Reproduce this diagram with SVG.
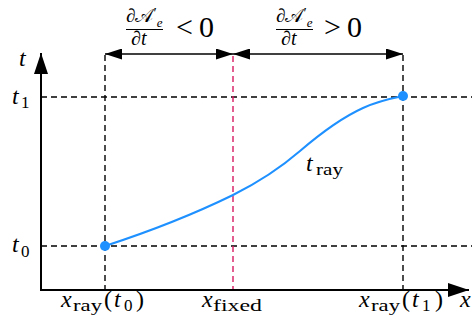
<svg xmlns="http://www.w3.org/2000/svg" width="472" height="327" viewBox="0 0 472 327">
<defs>
<style>
.dash{stroke:#000;stroke-width:1.4;stroke-dasharray:6,4;fill:none}
.red{stroke:#d81b60;stroke-width:1.4;stroke-dasharray:6,4;fill:none}
.axis{stroke:#000;stroke-width:2;fill:none}
.dim{stroke:#000;stroke-width:1.6;fill:none}
text{fill:#000;font-family:"Liberation Serif","DejaVu Serif",serif}
.it{font-style:italic}
.up{font-style:normal}
</style>
<marker id="ax" viewBox="0 0 21 14" refX="21" refY="7" markerWidth="21" markerHeight="14" markerUnits="userSpaceOnUse" orient="auto-start-reverse"><path d="M0,0 L21,7 L0,14 z" fill="#000"/></marker>
<marker id="ar" viewBox="0 0 17 11" refX="17" refY="5.5" markerWidth="17" markerHeight="11" markerUnits="userSpaceOnUse" orient="auto-start-reverse"><path d="M0,0 L17,5.5 L0,11 z" fill="#000"/></marker>
</defs>
<g id="guides">
<line class="dash" x1="105" y1="55" x2="105" y2="290"/>
<line class="dash" x1="403" y1="55" x2="403" y2="290"/>
<line class="dash" x1="41" y1="97" x2="472" y2="97"/>
<line class="dash" x1="41" y1="246" x2="472" y2="246"/>
<line class="red" x1="233" y1="56" x2="233" y2="290"/>
</g>
<g id="connectors">
<line class="axis" x1="41" y1="290" x2="41" y2="53" marker-end="url(#ax)"/>
<line class="axis" x1="40" y1="290" x2="469" y2="290" marker-end="url(#ax)"/>
<line class="dim" x1="105" y1="54" x2="233" y2="54" marker-start="url(#ar)" marker-end="url(#ar)"/>
<line class="dim" x1="233" y1="54" x2="403" y2="54" marker-start="url(#ar)" marker-end="url(#ar)"/>
</g>
<g id="curve">
<path d="M105,246 C148,232 190,216 233,195 C255,184 278,170 300,151 C321,133 342,117.5 363,108 C376,102 390,98.6 403,96" fill="none" stroke="#1e90ff" stroke-width="2"/>
<circle cx="105" cy="246" r="5" fill="#1e90ff"/>
<circle cx="403" cy="96" r="5" fill="#1e90ff"/>
</g>
<g id="axis-labels" font-size="24">
<text class="it" x="19" y="66">t</text>
<text class="it" x="12" y="104">t<tspan class="up" font-size="17" x="21" y="108">1</tspan></text>
<text class="it" x="12" y="252">t<tspan class="up" font-size="17" x="21" y="257">0</tspan></text>
<text class="it" x="460" y="307">x</text>
</g>
<g id="label-tray" font-size="24">
<text class="it" x="306" y="171">t<tspan class="up" font-size="17" x="316" y="175" textLength="27" lengthAdjust="spacingAndGlyphs">ray</tspan></text>
</g>
<g id="label-xray-t0" font-size="24">
<text class="it" x="61" y="307">x<tspan class="up" font-size="17" x="73" y="311" textLength="29" lengthAdjust="spacingAndGlyphs">ray</tspan><tspan class="up" x="104" y="307">(</tspan><tspan x="114" y="307">t</tspan><tspan class="up" font-size="17" x="124" y="311">0</tspan><tspan class="up" x="136" y="307">)</tspan></text>
</g>
<g id="label-xfixed" font-size="24">
<text class="it" x="202" y="307">x<tspan class="up" font-size="17" x="213" y="311" textLength="49" lengthAdjust="spacingAndGlyphs">fixed</tspan></text>
</g>
<g id="label-xray-t1" font-size="24">
<text class="it" x="359" y="307">x<tspan class="up" font-size="17" x="371" y="311" textLength="29" lengthAdjust="spacingAndGlyphs">ray</tspan><tspan class="up" x="402" y="307">(</tspan><tspan x="412" y="307">t</tspan><tspan class="up" font-size="17" x="422" y="311">1</tspan><tspan class="up" x="435" y="307">)</tspan></text>
</g>
<g id="label-neg">
<text font-size="19" x="126" y="22">∂𝒜<tspan font-size="15" y="18">′</tspan><tspan class="it" font-size="13" y="27">e</tspan></text>
<line x1="126" y1="29.5" x2="163" y2="29.5" stroke="#000" stroke-width="1"/>
<text font-size="20" x="131" y="45">∂<tspan class="it" x="141">t</tspan></text>
<text font-size="30" x="176" y="37">&lt;<tspan x="199">0</tspan></text>
</g>
<g id="label-pos">
<text font-size="19" x="276" y="22">∂𝒜<tspan font-size="15" y="18">′</tspan><tspan class="it" font-size="13" y="27">e</tspan></text>
<line x1="276" y1="29.5" x2="313" y2="29.5" stroke="#000" stroke-width="1"/>
<text font-size="20" x="281" y="45">∂<tspan class="it" x="291">t</tspan></text>
<text font-size="30" x="324" y="37">&gt;<tspan x="347">0</tspan></text>
</g>
</svg>
